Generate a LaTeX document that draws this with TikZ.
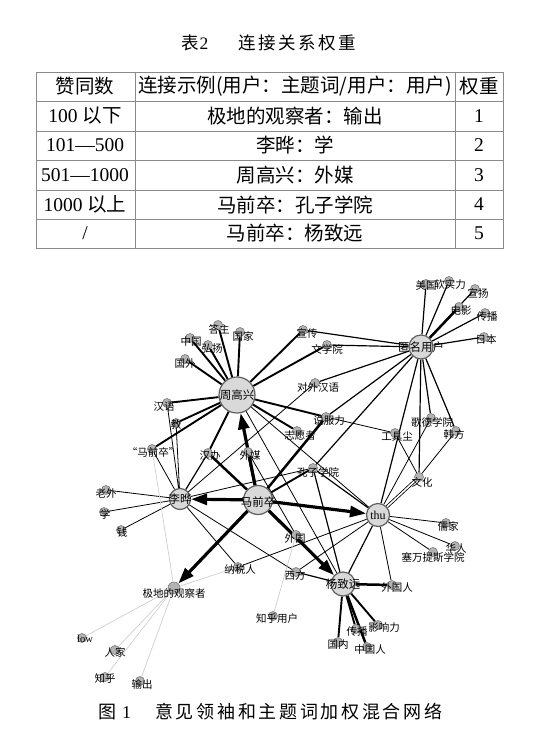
\documentclass[tikz,border=0pt]{standalone}
\usepackage{fontspec}
\setmainfont{Liberation Serif}
\newfontfamily\cjk{Noto Sans CJK SC}
\newfontfamily\cjkwide[LetterSpace=15]{Noto Sans CJK SC}
\usetikzlibrary{arrows.meta,backgrounds}
\definecolor{hubFill}{HTML}{D9D9D9}
\definecolor{hubLine}{HTML}{5F5F5F}
\definecolor{topFill}{HTML}{B3B3B3}
\definecolor{topLine}{HTML}{7A7A7A}
\definecolor{ruleC}{HTML}{8A8A8A}
\definecolor{faintC}{HTML}{CFCFCF}
\newcommand{\zh}[1]{{\cjk #1}}
\tikzset{
  hub/.style={circle, draw=hubLine, line width=1.2pt, fill=hubFill, inner sep=0pt},
  tp/.style={circle, draw=topLine, line width=0.6pt, fill=topFill,
             minimum size=9pt, inner sep=0pt},
  lab/.style={font=\fontsize{10.5}{11}\selectfont\cjk, inner sep=0pt},
  hlab/.style={font=\fontsize{11.5}{12}\selectfont\cjk, inner sep=0pt},
  cell/.style={font=\fontsize{19.5}{21}\selectfont, inner sep=0pt},
  ttl/.style={font=\fontsize{17.5}{18}\selectfont, inner sep=0pt},
  capt/.style={font=\fontsize{18}{19}\selectfont, inner sep=0pt},
  rl/.style={draw=ruleC, line width=0.9pt},
  % edge weights, thin to heavy
  ec/.style={line width=0.8pt},
  eb/.style={line width=1.2pt},
  ea/.style={line width=1.9pt},
  ed/.style={line width=2.5pt},
  arr/.style={line width=3.2pt, -{Triangle[length=16pt,width=11pt]}},
  faint/.style={line width=0.7pt, draw=faintC},
}

\begin{document}
\begin{tikzpicture}[x=1pt, y=-1pt]
\useasboundingbox (0,0) rectangle (547,736);

%% ── table 2 ───────────────────────────────────────────────────────────────
\node[ttl, anchor=west] (tabno) at (181,43) {{\cjkwide 表}\hspace{1pt}2};
\node[ttl, anchor=west] (tabname) at (238,43) {\cjkwide 连接关系权重};

\draw[rl] (36,72) rectangle (503,248);
\draw[rl] (36,101) -- (503,101) (36,131) -- (503,131) (36,160) -- (503,160)
          (36,190) -- (503,190) (36,219) -- (503,219);
\draw[rl] (135,72) -- (135,248) (455,72) -- (455,248);

\node[cell] (h1) at (85,86.5) {\zh{赞同数}};
\node[cell] (h2) at (295,86.5) {\zh{连接示例(用户：主题词/用户：用户)}};
\node[cell] (h3) at (479,86.5) {\zh{权重}};

\node[cell] (a1) at (85,116) {100 \zh{以下}};
\node[cell] (b1) at (295,116) {\zh{极地的观察者：输出}};
\node[cell] (c1) at (479,116) {1};
\node[cell] (a2) at (85,145.5) {101—500};
\node[cell] (b2) at (295,145.5) {\zh{李晔：学}};
\node[cell] (c2) at (479,145.5) {2};
\node[cell] (a3) at (85,175) {501—1000};
\node[cell] (b3) at (295,175) {\zh{周高兴：外媒}};
\node[cell] (c3) at (479,175) {3};
\node[cell] (a4) at (85,204.5) {1000 \zh{以上}};
\node[cell] (b4) at (295,204.5) {\zh{马前卒：孔子学院}};
\node[cell] (c4) at (479,204.5) {4};
\node[cell] (a5) at (85,233.5) {/};
\node[cell] (b5) at (295,233.5) {\zh{马前卒：杨致远}};
\node[cell] (c5) at (479,233.5) {5};

%% ── users ─────────────────────────────────────────────────────────────────
\node[hub, minimum size=36pt, label={[hlab]center:周高兴}] (zgx) at (237,395) {};
\node[hub, minimum size=24pt, label={[hlab]center:匿名用户}] (nm) at (421,347) {};
\node[hub, minimum size=21pt, label={[hlab]center:李晔}] (ly) at (180,499) {};
\node[hub, minimum size=29pt, label={[hlab, yshift=-2pt]center:马前卒}] (mqz) at (258,500) {};
\node[hub, minimum size=23pt,
      label={[font=\fontsize{12}{12}\selectfont, inner sep=0pt]center:thu}] (thu) at (378,515) {};
\node[hub, minimum size=24pt, label={[hlab]center:杨致远}] (yzy) at (343,584) {};
\node[tp, minimum size=12pt, label={[lab, yshift=-5pt]center:极地的观察者}] (jd) at (174,588) {};

%% ── topic words ───────────────────────────────────────────────────────────
\node[tp, label={[lab, xshift=1pt, yshift=-4pt]center:答主}] (dz) at (218,325) {};
\node[tp, label={[lab, xshift=3pt, yshift=-4pt]center:国家}] (gj) at (240,332) {};
\node[tp, label={[lab, xshift=1pt, yshift=-4pt]center:中国}] (zg) at (190,338) {};
\node[tp, label={[lab, xshift=4pt, yshift=-3pt]center:弘扬}] (xyL) at (208,345) {};
\node[tp, label={[lab, yshift=-5pt]center:国外}] (gw) at (185,359) {};
\node[tp, label={[lab, xshift=-3pt, yshift=-4pt]center:汉语}] (hy) at (167,403) {};
\node[tp, label={[lab, yshift=-2pt]center:教}] (jiao) at (176,423) {};
\node[tp, label={[lab, xshift=1pt, yshift=-3pt]center:“马前卒”}] (qmqz) at (152,449) {};
\node[tp, label={[lab, xshift=2pt, yshift=-3pt]center:汉办}] (hb) at (208,453) {};
\node[tp, label={[lab, xshift=2pt, yshift=-3pt]center:外媒}] (wm) at (248,452) {};
\node[tp, label={[lab, xshift=4pt, yshift=-3pt]center:宣传}] (xc) at (303,330) {};
\node[tp, label={[lab, yshift=-4pt]center:文学院}] (wxy) at (327,345) {};
\node[tp, label={[lab, xshift=3pt, yshift=-4pt]center:对外汉语}] (dwhy) at (315,383) {};
\node[tp, label={[lab, xshift=3pt, yshift=-4pt]center:说服力}] (sfl) at (326,417) {};
\node[tp, label={[lab, xshift=3pt, yshift=-5pt]center:志愿者}] (zyz) at (297,431) {};
\node[tp, label={[lab, xshift=5pt, yshift=-4pt]center:孔子学院}] (kzxy) at (313,468) {};
\node[tp, label={[lab, xshift=2pt, yshift=-4pt]center:工具尘}] (gjc) at (395,433) {};
\node[tp, label={[lab, xshift=1pt, yshift=-4pt]center:歌德学院}] (gdxy) at (431,418) {};
\node[tp, label={[lab, xshift=-2pt, yshift=-3pt]center:韩方}] (hf) at (456,431) {};
\node[tp, label={[lab, xshift=3pt, yshift=-5pt]center:文化}] (wh) at (419,477) {};
\node[tp, label={[lab, xshift=2pt, yshift=-3pt]center:儒家}] (rj) at (446,523) {};
\node[tp, label={[lab, xshift=1pt, yshift=-2pt]center:华人}] (hr) at (455,546) {};
\node[tp, label={[lab, yshift=-6pt]center:塞万提斯学院}] (swts) at (433,552) {};
\node[tp, label={[lab, xshift=5pt, yshift=-2pt]center:外国人}] (wgr) at (392,585) {};
\node[tp, label={[lab, xshift=-1pt, yshift=-3pt]center:外国}] (wg) at (296,535) {};
\node[tp, label={[lab, xshift=-1pt, yshift=-3pt]center:西方}] (xf) at (296,572) {};
\node[tp, label={[lab, xshift=2pt, yshift=-3pt]center:纳税人}] (nsr) at (238,567) {};
\node[tp, label={[lab, xshift=4pt, yshift=-3pt]center:知乎用户}] (zhyh) at (273,616) {};
\node[tp, label={[lab, xshift=1pt, yshift=-3pt]center:传播}] (cb) at (356,629) {};
\node[tp, label={[lab, xshift=6pt, yshift=-3pt]center:影响力}] (yxl) at (378,625) {};
\node[tp, label={[lab, yshift=-3pt]center:国内}] (gn) at (338,642) {};
\node[tp, label={[lab, xshift=3pt, yshift=-3pt]center:中国人}] (zgr) at (367,647) {};
\node[tp, label={[lab, yshift=-3pt]center:老外}] (lw) at (106,490) {};
\node[tp, label={[lab, xshift=1pt, yshift=-2pt]center:学}] (xue) at (104,512) {};
\node[tp, label={[lab, xshift=1pt, yshift=-2pt]center:钱}] (qian) at (121,530) {};
\node[tp, label={[font=\fontsize{10.5}{11}\selectfont, inner sep=0pt, xshift=3pt, yshift=-1pt]center:low}] (low) at (82,638) {};
\node[tp, label={[lab, yshift=-2pt]center:人家}] (rjia) at (115,650) {};
\node[tp, label={[lab, yshift=-2pt]center:知乎}] (zh) at (105,677) {};
\node[tp, label={[lab, xshift=2pt, yshift=-3pt]center:输出}] (sc) at (140,681) {};
\node[tp, label={[lab, yshift=-1pt]center:美国}] (mg) at (426,284) {};
\node[tp, label={[lab, xshift=1pt, yshift=-3pt]center:软实力}] (rsl) at (449,281) {};
\node[tp, label={[lab, xshift=3pt, yshift=-4pt]center:宣扬}] (xyR) at (475,289) {};
\node[tp, label={[lab, xshift=2pt, yshift=-3pt]center:电影}] (dy) at (459,307) {};
\node[tp, label={[lab, xshift=2pt, yshift=-4pt]center:传播}] (cbR) at (485,313) {};
\node[tp, label={[lab, xshift=2pt, yshift=-3pt]center:日本}] (rb) at (484,337) {};

%% ── links, under the circles ──────────────────────────────────────────────
\begin{scope}[on background layer]
\draw[ea] (zgx) -- (dz) (zgx) -- (gj) (zgx) -- (zg) (zgx) -- (xyL) (zgx) -- (gw)
          (zgx) -- (hy) (zgx) -- (jiao) (zgx) -- (qmqz) (zgx) -- (hb)
          (zgx) -- (xc) (zgx) -- (wxy) (zgx) -- (sfl) (zgx) -- (zyz);
\draw[ec] (zgx) -- (thu) (zgx) -- (yzy);

\draw[eb] (nm) -- (mg) (nm) -- (rsl) (nm) -- (xyR) (nm) -- (cbR) (nm) -- (rb)
          (nm) -- (xc) (nm) -- (wxy) (nm) -- (dwhy) (nm) -- (sfl) (nm) -- (kzxy)
          (nm) -- (gdxy) (nm) -- (hf) (nm) -- (wh) (nm) -- (thu);
\draw[ed] (nm) -- (dy);

\draw[ed] (mqz) -- (hb) (mqz) -- (wm) (mqz) -- (sfl);
\draw[ea] (mqz) -- (kzxy);

\draw[ec] (ly) -- (lw) (ly) -- (xue) (ly) -- (qian) (ly) -- (qmqz) (ly) -- (hy)
          (ly) -- (jiao) (ly) -- (dwhy) (ly) -- (kzxy) (ly) -- (nsr) (ly) -- (xf);
\draw[eb] (ly) -- (hb);

\draw[ec] (thu) -- (gdxy) (thu) -- (rj) (thu) -- (hr) (thu) -- (swts)
          (thu) -- (wgr) (thu) -- (nsr) (thu) -- (xf);
\draw[eb] (thu) -- (kzxy) (thu) -- (yzy);
\draw[ec, double=white, double distance=1.6pt] (thu) -- (wh);

\draw[ec] (wh) -- (gjc) (wh) -- (hf) (gjc) -- (sfl) (wm) -- (wg);

\draw[ed] (yzy) -- (wgr) (yzy) -- (zgr);
\draw[ea] (yzy) -- (cb) (yzy) -- (yxl) (yzy) -- (gn);
\draw[eb] (yzy) -- (kzxy) (yzy) -- (xf);

\draw[faint] (jd) -- (low) (jd) -- (rjia) (jd) -- (zh) (jd) -- (sc) (jd) -- (nsr)
             (jd) -- (qmqz) (zhyh) -- (wg);

% the five heavy links of 马前卒
\draw[arr] (mqz) -- (ly);
\draw[arr] (mqz) -- (zgx);
\draw[arr] (mqz) -- (thu);
\draw[arr] (mqz) -- (yzy);
\draw[arr] (mqz) -- (jd);
\end{scope}

%% ── caption ───────────────────────────────────────────────────────────────
\node[capt, anchor=west] (figno) at (98,712) {{\cjkwide 图}\hspace{6pt}1};
\node[capt, anchor=west] (figname) at (155,712) {\cjkwide 意见领袖和主题词加权混合网络};

\end{tikzpicture}
\end{document}
